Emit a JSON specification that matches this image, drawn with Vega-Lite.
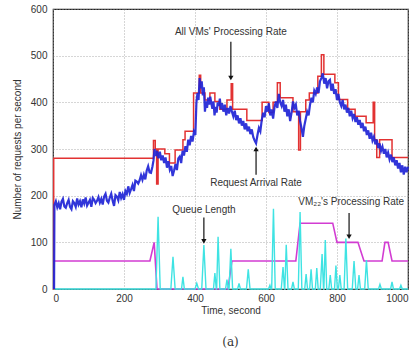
{
  "$schema": "https://vega.github.io/schema/vega-lite/v6.json",
  "width": 355,
  "height": 280,
  "autosize": "none",
  "padding": {"left": 53, "top": 9, "right": 9, "bottom": 65},
  "background": "white",
  "title": {"text": "(a)", "orient": "bottom", "font": "DejaVu Serif", "fontSize": 12, "fontWeight": "normal", "color": "#333", "offset": 22},
  "config": {
    "view": {"stroke": "#222", "strokeWidth": 1.2},
    "axis": {
      "grid": true, "gridDash": [1, 2], "gridColor": "#999", "gridOpacity": 0.8,
      "domain": false, "ticks": false,
      "labelFont": "Liberation Sans", "labelFontSize": 10, "labelColor": "#333",
      "titleFont": "Liberation Sans", "titleFontSize": 10, "titleFontWeight": "normal", "titleColor": "#333"
    },
    "text": {"font": "Liberation Sans", "fontSize": 10, "color": "#333"}
  },
  "datasets": {
    "blue": [
      {"t":3,"v":0},{"t":4,"v":180},{"t":8,"v":188},{"t":12,"v":175},{"t":16,"v":184},{"t":20,"v":171},{"t":24,"v":187},{"t":28,"v":193},{"t":32,"v":177},{"t":36,"v":174},{"t":40,"v":184},{"t":44,"v":191},{"t":48,"v":176},{"t":52,"v":171},{"t":56,"v":188},{"t":60,"v":184},{"t":64,"v":176},{"t":68,"v":194},{"t":72,"v":181},{"t":76,"v":188},{"t":80,"v":175},{"t":84,"v":192},{"t":88,"v":183},{"t":92,"v":196},{"t":96,"v":179},{"t":100,"v":185},{"t":104,"v":191},{"t":108,"v":176},{"t":112,"v":195},{"t":116,"v":191},{"t":120,"v":184},{"t":124,"v":189},{"t":128,"v":197},{"t":132,"v":185},{"t":136,"v":193},{"t":140,"v":181},{"t":144,"v":198},{"t":148,"v":204},{"t":152,"v":189},{"t":156,"v":185},{"t":160,"v":196},{"t":164,"v":204},{"t":168,"v":189},{"t":172,"v":178},{"t":176,"v":201},{"t":180,"v":198},{"t":184,"v":190},{"t":188,"v":208},{"t":192,"v":195},{"t":196,"v":203},{"t":200,"v":191},{"t":204,"v":210},{"t":208,"v":204},{"t":212,"v":220},{"t":216,"v":206},{"t":220,"v":214},{"t":224,"v":223},{"t":228,"v":210},{"t":232,"v":232},{"t":236,"v":230},{"t":240,"v":226},{"t":244,"v":233},{"t":248,"v":244},{"t":252,"v":234},{"t":256,"v":245},{"t":260,"v":235},{"t":264,"v":254},{"t":268,"v":263},{"t":272,"v":250},{"t":276,"v":249},{"t":280,"v":262},{"t":283,"v":275},{"t":286,"v":300},{"t":289,"v":285},{"t":293,"v":296},{"t":297,"v":280},{"t":301,"v":294},{"t":305,"v":276},{"t":309,"v":286},{"t":313,"v":270},{"t":317,"v":282},{"t":321,"v":260},{"t":325,"v":274},{"t":329,"v":256},{"t":333,"v":264},{"t":337,"v":242},{"t":341,"v":254},{"t":345,"v":268},{"t":349,"v":255},{"t":353,"v":280},{"t":357,"v":284},{"t":361,"v":270},{"t":365,"v":296},{"t":369,"v":286},{"t":373,"v":306},{"t":377,"v":294},{"t":381,"v":320},{"t":385,"v":308},{"t":389,"v":328},{"t":393,"v":316},{"t":397,"v":337},{"t":401,"v":330},{"t":404,"v":400},{"t":407,"v":420},{"t":410,"v":405},{"t":413,"v":452},{"t":416,"v":430},{"t":419,"v":445},{"t":422,"v":415},{"t":425,"v":432},{"t":428,"v":380},{"t":431,"v":402},{"t":434,"v":388},{"t":437,"v":410},{"t":440,"v":395},{"t":443,"v":412},{"t":446,"v":398},{"t":449,"v":386},{"t":452,"v":402},{"t":455,"v":372},{"t":458,"v":390},{"t":461,"v":378},{"t":464,"v":400},{"t":467,"v":392},{"t":470,"v":408},{"t":473,"v":385},{"t":476,"v":398},{"t":480,"v":380},{"t":484,"v":395},{"t":488,"v":372},{"t":492,"v":388},{"t":496,"v":376},{"t":500,"v":392},{"t":504,"v":380},{"t":508,"v":370},{"t":512,"v":382},{"t":516,"v":362},{"t":520,"v":372},{"t":524,"v":355},{"t":528,"v":366},{"t":532,"v":350},{"t":536,"v":360},{"t":540,"v":342},{"t":544,"v":355},{"t":548,"v":338},{"t":552,"v":348},{"t":556,"v":332},{"t":560,"v":342},{"t":564,"v":326},{"t":568,"v":318},{"t":572,"v":312},{"t":576,"v":330},{"t":580,"v":345},{"t":584,"v":338},{"t":588,"v":362},{"t":592,"v":378},{"t":596,"v":368},{"t":600,"v":392},{"t":604,"v":380},{"t":608,"v":398},{"t":612,"v":372},{"t":616,"v":385},{"t":620,"v":365},{"t":624,"v":390},{"t":628,"v":402},{"t":632,"v":388},{"t":636,"v":418},{"t":640,"v":400},{"t":644,"v":392},{"t":648,"v":405},{"t":652,"v":380},{"t":656,"v":395},{"t":660,"v":370},{"t":664,"v":385},{"t":668,"v":360},{"t":672,"v":378},{"t":676,"v":402},{"t":680,"v":388},{"t":684,"v":395},{"t":688,"v":372},{"t":692,"v":382},{"t":696,"v":360},{"t":700,"v":345},{"t":704,"v":326},{"t":708,"v":350},{"t":712,"v":365},{"t":716,"v":380},{"t":720,"v":372},{"t":724,"v":395},{"t":728,"v":410},{"t":732,"v":400},{"t":736,"v":425},{"t":740,"v":418},{"t":744,"v":432},{"t":748,"v":420},{"t":752,"v":445},{"t":756,"v":452},{"t":760,"v":462},{"t":764,"v":440},{"t":768,"v":452},{"t":772,"v":430},{"t":776,"v":445},{"t":780,"v":448},{"t":784,"v":425},{"t":788,"v":440},{"t":792,"v":418},{"t":796,"v":428},{"t":800,"v":405},{"t":804,"v":418},{"t":808,"v":400},{"t":812,"v":392},{"t":816,"v":405},{"t":820,"v":385},{"t":824,"v":395},{"t":828,"v":378},{"t":832,"v":388},{"t":836,"v":370},{"t":840,"v":382},{"t":844,"v":366},{"t":848,"v":375},{"t":852,"v":358},{"t":856,"v":368},{"t":860,"v":352},{"t":864,"v":362},{"t":868,"v":345},{"t":872,"v":356},{"t":876,"v":338},{"t":880,"v":348},{"t":884,"v":330},{"t":888,"v":340},{"t":892,"v":322},{"t":896,"v":335},{"t":900,"v":318},{"t":904,"v":326},{"t":908,"v":310},{"t":912,"v":320},{"t":916,"v":302},{"t":920,"v":312},{"t":924,"v":296},{"t":928,"v":305},{"t":932,"v":290},{"t":936,"v":300},{"t":940,"v":282},{"t":944,"v":292},{"t":948,"v":278},{"t":952,"v":288},{"t":956,"v":272},{"t":960,"v":282},{"t":964,"v":265},{"t":968,"v":276},{"t":972,"v":258},{"t":976,"v":270},{"t":980,"v":250},{"t":984,"v":265},{"t":988,"v":245},{"t":992,"v":262},{"t":996,"v":250},{"t":1000,"v":262}
    ],
    "red": [
      {"t":0,"v":0},{"t":2,"v":0},{"t":2,"v":280},{"t":283,"v":280},{"t":283,"v":318},{"t":288,"v":318},{"t":288,"v":300},{"t":292,"v":300},{"t":292,"v":225},{"t":296,"v":225},{"t":296,"v":300},{"t":315,"v":300},{"t":315,"v":290},{"t":328,"v":290},{"t":328,"v":270},{"t":344,"v":270},{"t":344,"v":298},{"t":366,"v":298},{"t":366,"v":320},{"t":372,"v":320},{"t":372,"v":338},{"t":396,"v":338},{"t":396,"v":420},{"t":412,"v":420},{"t":412,"v":458},{"t":416,"v":458},{"t":416,"v":420},{"t":428,"v":420},{"t":428,"v":405},{"t":442,"v":405},{"t":442,"v":420},{"t":456,"v":420},{"t":456,"v":402},{"t":470,"v":402},{"t":470,"v":385},{"t":490,"v":385},{"t":490,"v":405},{"t":502,"v":405},{"t":502,"v":440},{"t":506,"v":440},{"t":506,"v":385},{"t":546,"v":385},{"t":546,"v":361},{"t":589,"v":361},{"t":589,"v":400},{"t":608,"v":400},{"t":608,"v":378},{"t":620,"v":378},{"t":620,"v":400},{"t":632,"v":400},{"t":632,"v":442},{"t":640,"v":442},{"t":640,"v":410},{"t":676,"v":410},{"t":676,"v":380},{"t":692,"v":380},{"t":692,"v":298},{"t":697,"v":298},{"t":697,"v":380},{"t":712,"v":380},{"t":712,"v":405},{"t":722,"v":405},{"t":722,"v":420},{"t":746,"v":420},{"t":746,"v":456},{"t":756,"v":456},{"t":756,"v":502},{"t":763,"v":502},{"t":763,"v":460},{"t":794,"v":460},{"t":794,"v":442},{"t":804,"v":442},{"t":804,"v":406},{"t":830,"v":406},{"t":830,"v":385},{"t":851,"v":385},{"t":851,"v":370},{"t":882,"v":370},{"t":882,"v":356},{"t":902,"v":356},{"t":902,"v":400},{"t":906,"v":400},{"t":906,"v":320},{"t":912,"v":320},{"t":912,"v":282},{"t":920,"v":282},{"t":920,"v":320},{"t":955,"v":320},{"t":955,"v":282},{"t":1000,"v":282}
    ],
    "cyan": [
      {"t":0,"v":0},{"t":290,"v":0},{"t":296,"v":155},{"t":302,"v":0},{"t":332,"v":0},{"t":338,"v":69},{"t":344,"v":0},{"t":362,"v":0},{"t":366,"v":26},{"t":370,"v":0},{"t":400,"v":0},{"t":405,"v":12},{"t":410,"v":0},{"t":419,"v":0},{"t":425,"v":94},{"t":431,"v":0},{"t":452,"v":0},{"t":456,"v":34},{"t":460,"v":0},{"t":461,"v":0},{"t":465,"v":112},{"t":470,"v":0},{"t":486,"v":0},{"t":490,"v":20},{"t":494,"v":0},{"t":496,"v":0},{"t":501,"v":86},{"t":506,"v":0},{"t":520,"v":0},{"t":524,"v":12},{"t":528,"v":0},{"t":545,"v":0},{"t":550,"v":42},{"t":555,"v":0},{"t":607,"v":0},{"t":611,"v":8},{"t":614,"v":0},{"t":616,"v":0},{"t":621,"v":172},{"t":626,"v":0},{"t":643,"v":0},{"t":648,"v":47},{"t":652,"v":0},{"t":653,"v":0},{"t":657,"v":95},{"t":662,"v":0},{"t":672,"v":0},{"t":676,"v":15},{"t":680,"v":0},{"t":691,"v":0},{"t":696,"v":165},{"t":701,"v":0},{"t":709,"v":0},{"t":713,"v":32},{"t":717,"v":0},{"t":723,"v":0},{"t":727,"v":42},{"t":731,"v":0},{"t":739,"v":0},{"t":743,"v":45},{"t":747,"v":0},{"t":753,"v":0},{"t":758,"v":75},{"t":762,"v":0},{"t":763,"v":0},{"t":767,"v":105},{"t":771,"v":0},{"t":777,"v":0},{"t":781,"v":30},{"t":785,"v":0},{"t":793,"v":0},{"t":797,"v":50},{"t":801,"v":0},{"t":804,"v":0},{"t":808,"v":30},{"t":812,"v":0},{"t":820,"v":0},{"t":825,"v":108},{"t":830,"v":0},{"t":843,"v":0},{"t":848,"v":60},{"t":853,"v":0},{"t":858,"v":0},{"t":862,"v":30},{"t":866,"v":0},{"t":878,"v":0},{"t":883,"v":62},{"t":888,"v":0},{"t":917,"v":0},{"t":921,"v":10},{"t":925,"v":0},{"t":951,"v":0},{"t":955,"v":15},{"t":959,"v":0},{"t":976,"v":0},{"t":980,"v":8},{"t":984,"v":0},{"t":1000,"v":0}
    ],
    "magenta": [
      {"t":0,"v":60},{"t":273,"v":60},{"t":285,"v":100},{"t":293,"v":0},{"t":493,"v":0},{"t":504,"v":60},{"t":684,"v":60},{"t":696,"v":141},{"t":788,"v":141},{"t":800,"v":100},{"t":859,"v":100},{"t":876,"v":60},{"t":927,"v":60},{"t":935,"v":100},{"t":944,"v":100},{"t":955,"v":60},{"t":1000,"v":60}
    ],
    "labels": [
      {"label":"All VMs' Processing Rate","t":501,"v":550},
      {"label":"Request Arrival Rate","t":572,"v":228},
      {"label":"Queue Length","t":425,"v":170},
      {"label":"VM₂₂'s Processing Rate","t":840,"v":187}
    ],
    "arrows": [
      {"t":501,"v":530,"v2":452,"dir":"down"},
      {"t":572,"v":245,"v2":300,"dir":"up"},
      {"t":425,"v":153,"v2":102,"dir":"down"},
      {"t":834,"v":163,"v2":112,"dir":"down"}
    ]
  },
  "encoding": {
    "x": {"field": "t", "type": "quantitative", "scale": {"domain": [0, 1000], "nice": false}, "axis": {"title": "Time, second", "values": [0,200,400,600,800,1000], "format": "d", "labelPadding": 4, "titlePadding": 2}},
    "y": {"field": "v", "type": "quantitative", "scale": {"domain": [0, 600], "nice": false}, "axis": {"title": "Number of requests per second", "values": [0,100,200,300,400,500,600], "format": "d", "labelPadding": 6, "titlePadding": 8}}
  },
  "layer": [
    {"data": {"name": "magenta"}, "mark": {"type": "line", "color": "#d23cd2", "strokeWidth": 1.6}},
    {"data": {"name": "cyan"}, "mark": {"type": "line", "color": "#3fe3e3", "strokeWidth": 1.4}},
    {"data": {"name": "red"}, "mark": {"type": "line", "color": "#e23232", "strokeWidth": 1.5}},
    {"data": {"name": "blue"}, "mark": {"type": "line", "color": "#1f24d6", "strokeWidth": 2.2, "opacity": 0.92}},
    {"data": {"name": "arrows"}, "mark": {"type": "rule", "color": "#111", "strokeWidth": 1.2}, "encoding": {"y2": {"field": "v2"}}},
    {"data": {"name": "arrows"}, "mark": {"type": "point", "filled": true, "color": "#111", "size": 28, "opacity": 1}, "encoding": {"y": {"field": "v2", "type": "quantitative"}, "shape": {"field": "dir", "type": "nominal", "scale": {"domain": ["down", "up"], "range": ["triangle-down", "triangle-up"]}, "legend": null}}},
    {"data": {"name": "labels"}, "mark": {"type": "text", "fontSize": 10}, "encoding": {"text": {"field": "label"}}}
  ]
}
